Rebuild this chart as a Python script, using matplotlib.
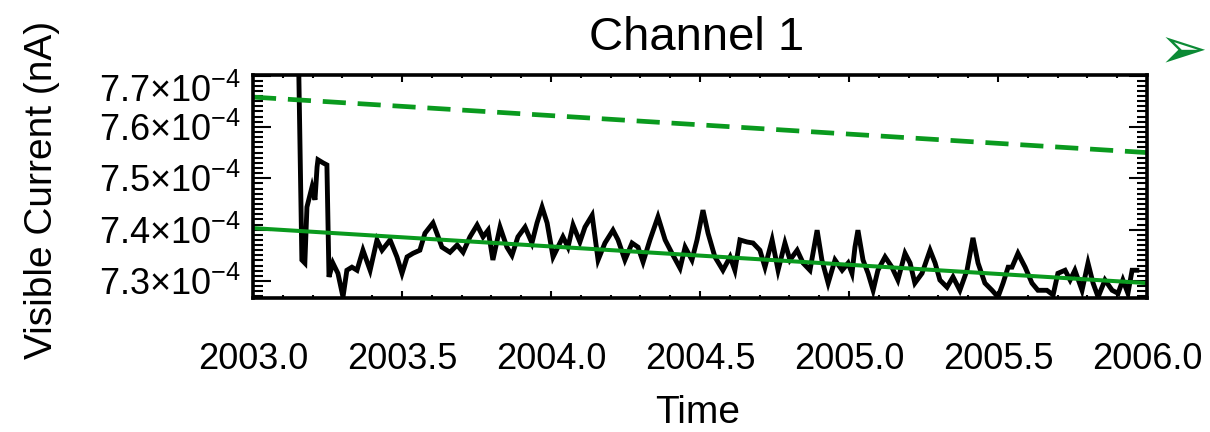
import matplotlib
matplotlib.use("Agg")
import matplotlib.pyplot as plt
from matplotlib.ticker import MultipleLocator, FuncFormatter
from matplotlib.transforms import ScaledTranslation

plt.rcParams['font.family'] = ['Liberation Sans', 'DejaVu Sans']
plt.rcParams['mathtext.fontset'] = 'custom'
plt.rcParams['mathtext.rm'] = 'Liberation Sans'
plt.rcParams['mathtext.it'] = 'Liberation Sans'

# ────────────── data (current in units of 1e-4 nA) ──────────────
years = [
    2003.151, 2003.164, 2003.174, 2003.181, 2003.198, 2003.208, 2003.215, 2003.218,
    2003.235, 2003.248, 2003.255, 2003.268, 2003.285, 2003.302, 2003.315, 2003.332,
    2003.349, 2003.369, 2003.393, 2003.416, 2003.433, 2003.460, 2003.483, 2003.500,
    2003.517, 2003.537, 2003.560, 2003.577, 2003.604, 2003.617, 2003.634, 2003.661,
    2003.685, 2003.705, 2003.728, 2003.752, 2003.772, 2003.789, 2003.805, 2003.829,
    2003.852, 2003.869, 2003.889, 2003.913, 2003.936, 2003.953, 2003.970, 2003.987,
    2004.007, 2004.023, 2004.040, 2004.057, 2004.074, 2004.097, 2004.114, 2004.138,
    2004.158, 2004.181, 2004.208, 2004.225, 2004.248, 2004.272, 2004.292, 2004.309,
    2004.332, 2004.359, 2004.383, 2004.406, 2004.433, 2004.450, 2004.473, 2004.490,
    2004.510, 2004.527, 2004.550, 2004.577, 2004.601, 2004.617, 2004.634, 2004.658,
    2004.678, 2004.701, 2004.718, 2004.742, 2004.762, 2004.785, 2004.802, 2004.826,
    2004.846, 2004.869, 2004.893, 2004.909, 2004.930, 2004.953, 2004.977, 2004.997,
    2005.010, 2005.020, 2005.030, 2005.047, 2005.064, 2005.081, 2005.097, 2005.121,
    2005.144, 2005.164, 2005.188, 2005.205, 2005.221, 2005.245, 2005.272, 2005.289,
    2005.305, 2005.329, 2005.349, 2005.372, 2005.396, 2005.416, 2005.433, 2005.456,
    2005.480, 2005.500, 2005.517, 2005.534, 2005.547, 2005.567, 2005.591, 2005.614,
    2005.634, 2005.664, 2005.685, 2005.701, 2005.725, 2005.742, 2005.758, 2005.782,
    2005.802, 2005.819, 2005.836, 2005.859, 2005.883, 2005.903, 2005.919, 2005.936,
    2005.950, 2005.966,
]
current = [
    7.800, 7.341, 7.335, 7.444, 7.483, 7.458, 7.522, 7.536,
    7.530, 7.526, 7.308, 7.335, 7.315, 7.269, 7.321, 7.327,
    7.321, 7.360, 7.321, 7.380, 7.360, 7.380, 7.347, 7.315,
    7.347, 7.354, 7.360, 7.393, 7.413, 7.393, 7.366, 7.356,
    7.370, 7.356, 7.386, 7.409, 7.386, 7.399, 7.341, 7.405,
    7.366, 7.350, 7.386, 7.405, 7.374, 7.413, 7.444, 7.413,
    7.347, 7.366, 7.386, 7.366, 7.409, 7.376, 7.405, 7.428,
    7.341, 7.374, 7.399, 7.380, 7.341, 7.374, 7.366, 7.337,
    7.380, 7.425, 7.380, 7.354, 7.325, 7.366, 7.341, 7.380,
    7.438, 7.393, 7.347, 7.321, 7.347, 7.321, 7.380, 7.376,
    7.374, 7.360, 7.327, 7.380, 7.321, 7.374, 7.341, 7.360,
    7.335, 7.321, 7.399, 7.341, 7.296, 7.341, 7.321, 7.335,
    7.315, 7.366, 7.399, 7.341, 7.315, 7.282, 7.321, 7.347,
    7.327, 7.302, 7.354, 7.335, 7.296, 7.315, 7.360, 7.335,
    7.302, 7.288, 7.308, 7.282, 7.321, 7.384, 7.335, 7.296,
    7.282, 7.269, 7.296, 7.327, 7.327, 7.354, 7.327, 7.296,
    7.282, 7.282, 7.273, 7.315, 7.321, 7.302, 7.321, 7.282,
    7.335, 7.296, 7.269, 7.302, 7.282, 7.276, 7.302, 7.276,
    7.321, 7.321,
]

# linear trends
fit_years = [2003.0, 2006.0]
fit_solid = [7.403, 7.296]
fit_dashed = [7.658, 7.550]

yticks = [7.3, 7.4, 7.5, 7.6, 7.7]
green = '#0a9a1e'

fig = plt.figure(figsize=(12.10, 4.32), dpi=100)
ax = fig.add_axes([253 / 1210, 1 - 298 / 432, 894 / 1210, 223 / 432])

ax.plot(years, current, color='black', lw=3.5, solid_joinstyle='miter')
ax.plot(fit_years, fit_solid, color=green, lw=2.9)
ax.plot(fit_years, fit_dashed, color=green, lw=3.4, dashes=(4.9, 2.5))

ax.set_xlim(2003.0, 2006.0)
ax.set_ylim(7.267, 7.701)

ax.xaxis.set_major_locator(MultipleLocator(0.5))
ax.xaxis.set_minor_locator(MultipleLocator(0.1))
ax.set_yticks(yticks)
ax.yaxis.set_minor_locator(MultipleLocator(0.01))
ax.xaxis.set_major_formatter(FuncFormatter(lambda v, p: f"{v:.1f}"))
ax.yaxis.set_major_formatter(FuncFormatter(lambda v, p: f"{v:.1f}×10$^{{-4}}$"))

ax.tick_params(axis='both', which='both', direction='in', top=True, right=True,
               width=1.5, colors='black')
ax.tick_params(axis='x', which='major', length=5, pad=32, labelsize=26)
ax.tick_params(axis='x', which='minor', length=2.5)
ax.tick_params(axis='y', which='major', length=13, pad=9, labelsize=26)
ax.tick_params(axis='y', which='minor', length=7)
for s in ax.spines.values():
    s.set_linewidth(2.6)

# the top label sits a bit lower in the original
fig.canvas.draw()
for lab in ax.get_yticklabels():
    if lab.get_text().startswith('7.7'):
        lab.set_transform(lab.get_transform() + ScaledTranslation(0, -0.12, fig.dpi_scale_trans))

fig.text(697 / 1210, 1 - 38 / 432, 'Channel 1', fontsize=34, ha='center', va='center')
fig.text(698 / 1210, 1 - 413 / 432, 'Time', fontsize=28, ha='center', va='center')
fig.text(42 / 1210, 1 - 190 / 432, 'Visible Current (nA)', fontsize=28,
         rotation=90, ha='center', va='center')
fig.text(1207 / 1210, 1 - 52 / 432, '➢', fontsize=42, color='#0b8a35',
         ha='right', va='center', family=['DejaVu Sans'])

fig.savefig('out.png', dpi=100)
